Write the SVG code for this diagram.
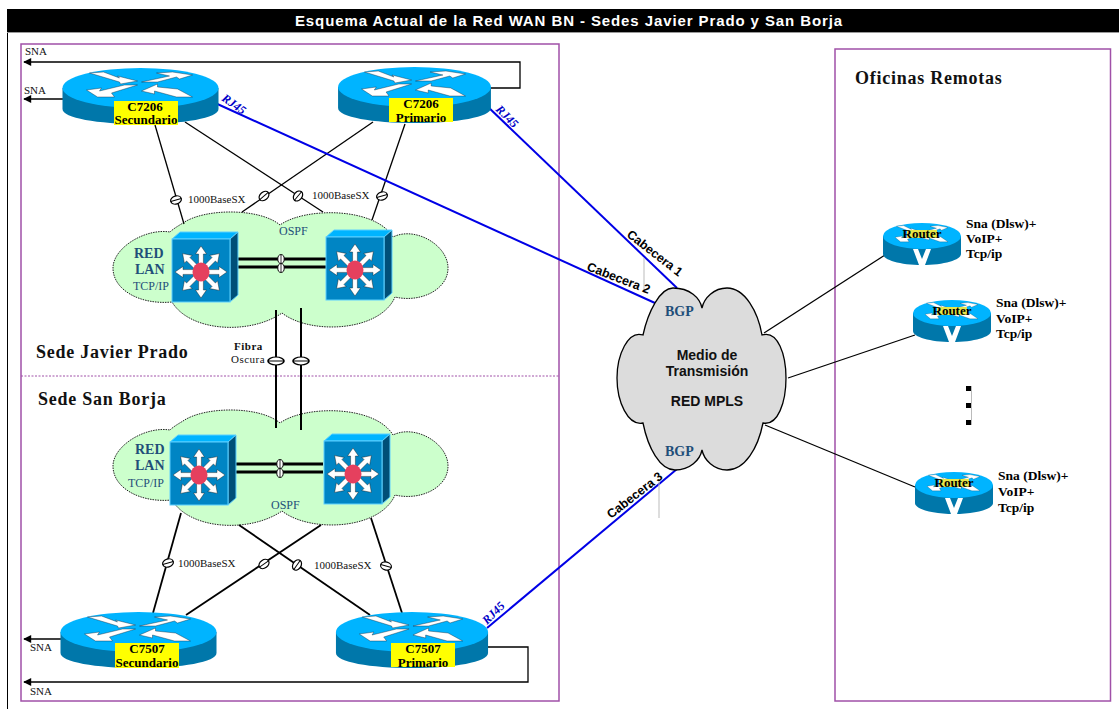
<svg xmlns="http://www.w3.org/2000/svg" xmlns:xlink="http://www.w3.org/1999/xlink" width="1119" height="709" viewBox="0 0 1119 709">
<style>
.s{font-family:"Liberation Serif",serif}
.a{font-family:"Liberation Sans",Arial,sans-serif}
.lbl{font-size:11px;fill:#111}
.net{font-size:14px;fill:#1f4e79;font-weight:bold}
.netn{font-size:12px;fill:#1f4e79}
.rt{font-size:13px;font-weight:bold;fill:#000;text-anchor:middle}
.rj{font-size:12px;font-weight:bold;font-style:italic;fill:#0000c8}
.cab{font-size:12.5px;font-weight:bold;fill:#000}
.mpls{font-size:14px;font-weight:bold;fill:#111;text-anchor:middle}
.site{font-size:18px;font-weight:bold;fill:#111;letter-spacing:.75px}
.rem{font-size:13.5px;font-weight:bold;fill:#000}
.bl{stroke:#000;stroke-width:1.3;fill:none}
.bl2{stroke:#000;stroke-width:1.8;fill:none}
.blue{stroke:#0000e6;stroke-width:2;fill:none}
.fib{stroke:#000;stroke-width:2;fill:none}
.lens{fill:#fff;stroke:#000;stroke-width:1.2}
</style>
<defs>
<marker id="ah" viewBox="0 0 10 10" refX="9" refY="5" markerWidth="9" markerHeight="8" orient="auto" markerUnits="userSpaceOnUse"><path d="M0 0L10 5L0 10Z" fill="#000"/></marker>
<g id="arrows" fill="#fff" stroke="#123" stroke-width=".4">
<path d="M-51 -15L-37 -16L-21 -10L-23 -12L-3 -7L-20 -4L-21 -6Z"/>
<path d="M16 -15L32 -16L52 -13L39 -9L36 -11L17 -6L1 -6L29 -12Z"/>
<path d="M-54 2L-39 0L-41 3L-16 -3L-3 -3L-29 5L-26 9L-43 9Z"/>
<path d="M1 3L17 -4L17 -1L37 1L52 9L36 9L14 3L14 6Z"/>
</g>
<g id="router">
<path d="M-78 0V21C-78 30 -43 36 0 36C43 36 78 30 78 21V0Z" fill="#0077aa"/>
<ellipse rx="78" ry="20" fill="#00b4ff"/>
<use xlink:href="#arrows" href="#arrows"/>
</g>
<g id="srouter">
<path d="M-39 0V18C-39 24 -22 29 0 29C22 29 39 24 39 18V0Z" fill="#0077aa"/>
<ellipse rx="39" ry="13" fill="#00b4ff"/>
<use xlink:href="#arrows" href="#arrows" transform="scale(.5,.65)"/>
<path d="M-9 13L-3 29H3L9 13L4 13L0 23L-4 13Z" fill="#fff"/>
</g>
<path id="arr" d="M7 -2.400H18V-5.500L26 0L18 5.500V2.400H7Z" fill="#fff" stroke="#111" stroke-width=".4"/>
<g id="switch">
<path d="M0 0L8 -7H66L58 0Z" fill="#00b4ff" stroke="#5cd0ff"/>
<path d="M58 0L66 -7V56L58 63Z" fill="#004f78" stroke="#5cd0ff"/>
<rect width="58" height="63" fill="#0085c4" stroke="#5cd0ff"/>
<g transform="translate(29,33)">
<use xlink:href="#arr" href="#arr"/><use xlink:href="#arr" href="#arr" transform="rotate(45)"/><use xlink:href="#arr" href="#arr" transform="rotate(90)"/><use xlink:href="#arr" href="#arr" transform="rotate(135)"/><use xlink:href="#arr" href="#arr" transform="rotate(180)"/><use xlink:href="#arr" href="#arr" transform="rotate(225)"/><use xlink:href="#arr" href="#arr" transform="rotate(270)"/><use xlink:href="#arr" href="#arr" transform="rotate(315)"/>
<ellipse rx="8.500" ry="9.500" fill="#e5405e"/>
</g>
</g>
<path id="cloudG" d="M183 223C205 208 260 208 280 225C305 207 375 207 393 237C415 226 448 245 448 268C448 290 420 303 395 297C380 332 310 335 282 313C250 335 190 332 172 302C140 305 113 290 113 268C113 248 145 228 170 232C173 229 178 226 183 223Z" fill="#ccffcc" stroke="#222" stroke-width="1" stroke-dasharray="1.500 1"/>
<g id="lensT"><ellipse cx="0" cy="0" rx="5.500" ry="4" class="lens"/><path d="M-5.500 0H5.500" stroke="#000" stroke-width="1"/></g>
</defs>

<rect width="1119" height="709" fill="#fff"/>
<rect id="title-bar" x="7" y="9" width="1112" height="23" fill="#000"/>
<path d="M7 32.500H1119" stroke="#999" stroke-width="1"/>
<text x="569" y="25.500" class="a" font-size="15" font-weight="bold" fill="#fff" text-anchor="middle" letter-spacing=".9">Esquema Actual de la Red WAN BN - Sedes Javier Prado y San Borja</text>
<path d="M7.500 33V709" stroke="#000" stroke-width="1" fill="none"/>

<g id="frames" fill="none" stroke="#a050a8" stroke-width="1.500">
<rect x="21" y="44" width="538" height="657"/>
<rect x="835" y="49" width="275.500" height="652"/>
<path d="M21 376H559" stroke-width="1" stroke-dasharray="2 1.500"/>
</g>

<g id="cloud-jp"><use xlink:href="#cloudG" href="#cloudG"/></g>
<g id="cloud-sb"><use xlink:href="#cloudG" href="#cloudG" transform="translate(0,198)"/></g>

<g id="connectors">
<path class="bl" d="M491 88H520V62H24" marker-end="url(#ah)"/>
<path class="bl" d="M63 99H24" marker-end="url(#ah)"/>
<path class="bl" d="M155 125L184 224"/>
<path class="bl" d="M185 122L323 212"/>
<path class="bl" d="M373 122L242 212"/>
<path class="bl" d="M405 124L372 220"/>
<path class="blue" d="M213 102L655 303"/>
<path class="blue" d="M486 105L677 288"/>
<path class="blue" d="M487 628L677 469"/>
<path class="fib" d="M276 310V428M301 308V430"/>
<path d="M238 259H326M238 267H326M236 464H323M236 472H323" stroke="#000" stroke-width="3" fill="none"/>
<path class="bl2" d="M181 513L153 613"/>
<path class="bl2" d="M321 525L186 615"/>
<path class="bl2" d="M239 525L370 615"/>
<path class="bl2" d="M371 518L402 613"/>
<path class="bl" d="M62 639H24" marker-end="url(#ah)"/>
<path class="bl" d="M488 647H528V682H24" marker-end="url(#ah)"/>
<path class="bl" d="M764 333L885 255"/>
<path class="bl" d="M788 378L915 335"/>
<path class="bl" d="M765 425L915 487"/>
<path d="M644 258V290M659 480V518M971.500 386V425" stroke="#bbb" stroke-width="1" fill="none"/>
<use xlink:href="#lensT" href="#lensT" transform="translate(176,200) rotate(-15)"/>
<use xlink:href="#lensT" href="#lensT" transform="translate(264,196) rotate(-40)"/>
<use xlink:href="#lensT" href="#lensT" transform="translate(298,196) rotate(-50)"/>
<use xlink:href="#lensT" href="#lensT" transform="translate(382,196) rotate(-15)"/>
<use xlink:href="#lensT" href="#lensT" transform="translate(168,563) rotate(-15)"/>
<use xlink:href="#lensT" href="#lensT" transform="translate(264,564) rotate(-35)"/>
<use xlink:href="#lensT" href="#lensT" transform="translate(297,565) rotate(-55)"/>
<use xlink:href="#lensT" href="#lensT" transform="translate(386,566) rotate(15)"/>
<use xlink:href="#lensT" href="#lensT" transform="translate(276,361) scale(1.450,1)"/>
<use xlink:href="#lensT" href="#lensT" transform="translate(301,361) scale(1.450,1)"/>
<use xlink:href="#lensT" href="#lensT" transform="translate(281,259) rotate(90) scale(.8)"/>
<use xlink:href="#lensT" href="#lensT" transform="translate(281,268) rotate(90) scale(.8)"/>
<use xlink:href="#lensT" href="#lensT" transform="translate(280,464) rotate(90) scale(.8)"/>
<use xlink:href="#lensT" href="#lensT" transform="translate(280,473) rotate(90) scale(.8)"/>
</g>

<g id="sw1"><use xlink:href="#switch" href="#switch" transform="translate(172,239)"/></g>
<g id="sw2"><use xlink:href="#switch" href="#switch" transform="translate(326,237)"/></g>
<g id="sw3"><use xlink:href="#switch" href="#switch" transform="translate(170,442)"/></g>
<g id="sw4"><use xlink:href="#switch" href="#switch" transform="translate(324,441)"/></g>

<g id="r7206s"><use xlink:href="#router" href="#router" transform="translate(140.500,88)"/><rect x="114" y="101" width="64" height="24" fill="#ff0"/><text x="145" y="111" class="s rt">C7206</text><text x="146" y="124" class="s rt">Secundario</text></g>
<g id="r7206p"><use xlink:href="#router" href="#router" transform="translate(414.500,87) scale(.98,1)"/><rect x="389" y="98" width="64" height="24" fill="#ff0"/><text x="421" y="108" class="s rt">C7206</text><text x="421" y="122" class="s rt">Primario</text></g>
<g id="r7507s"><use xlink:href="#router" href="#router" transform="translate(138.500,632)"/><rect x="115" y="643" width="64" height="25" fill="#ff0"/><text x="147" y="653" class="s rt">C7507</text><text x="147" y="667" class="s rt">Secundario</text></g>
<g id="r7507p"><use xlink:href="#router" href="#router" transform="translate(412,632) scale(.975,1)"/><rect x="391" y="643" width="64" height="24" fill="#ff0"/><text x="423" y="653" class="s rt">C7507</text><text x="423" y="667" class="s rt">Primario</text></g>

<g id="mpls-cloud">
<path d="M673 288C690 288 700 298 702 308C704 298 714 288 727 288C745 288 758 312 762 335C778 330 786 355 786 378C786 402 778 426 763 423C758 448 745 470 727 470C714 470 704 460 702 450C700 460 690 470 675 470C660 470 648 448 643 423C628 426 617 402 617 378C617 355 628 330 643 335C648 312 660 288 673 288Z" fill="#dcdcdc" stroke="#000" stroke-width="1.300"/>
<text x="707" y="360" class="a mpls">Medio de</text>
<text x="707" y="376" class="a mpls">Transmisión</text>
<text x="707" y="406" class="a mpls">RED MPLS</text>
<text x="665" y="316" class="s net">BGP</text>
<text x="665" y="456" class="s net">BGP</text>
</g>

<g id="remote1"><use xlink:href="#srouter" href="#srouter" transform="translate(922,236)"/><rect x="907" y="230" width="30" height="8" fill="#e6e64a"/><text x="922" y="238" class="s rt">Router</text>
<text x="966" y="228" class="s rem">Sna (Dlsw)+</text><text x="966" y="243" class="s rem">VoIP+</text><text x="966" y="258" class="s rem">Tcp/ip</text></g>
<g id="remote2"><use xlink:href="#srouter" href="#srouter" transform="translate(952,313)"/><rect x="937" y="307" width="30" height="8" fill="#e6e64a"/><text x="952" y="315" class="s rt">Router</text>
<text x="996" y="307" class="s rem">Sna (Dlsw)+</text><text x="996" y="323" class="s rem">VoIP+</text><text x="996" y="338" class="s rem">Tcp/ip</text></g>
<g id="remote3"><use xlink:href="#srouter" href="#srouter" transform="translate(954,485)"/><rect x="939" y="479" width="30" height="8" fill="#e6e64a"/><text x="954" y="487" class="s rt">Router</text>
<text x="998" y="480" class="s rem">Sna (Dlsw)+</text><text x="998" y="496" class="s rem">VoIP+</text><text x="998" y="512" class="s rem">Tcp/ip</text></g>
<g id="dots" fill="#000"><rect x="966" y="386" width="5" height="5"/><rect x="966" y="403" width="5" height="5"/><rect x="966" y="420" width="5" height="5"/></g>

<g id="labels">
<text x="25" y="55" class="s lbl">SNA</text><text x="24" y="94" class="s lbl">SNA</text>
<text x="30" y="651" class="s lbl">SNA</text><text x="30" y="695" class="s lbl">SNA</text>
<text x="188" y="203" class="s lbl">1000BaseSX</text><text x="312" y="199" class="s lbl">1000BaseSX</text>
<text x="178" y="567" class="s lbl">1000BaseSX</text><text x="314" y="569" class="s lbl">1000BaseSX</text>
<text x="279" y="235" class="s netn">OSPF</text>
<text x="271" y="509" class="s netn">OSPF</text>
<text x="134" y="258" class="s net">RED</text><text x="135" y="274" class="s net">LAN</text><text x="133" y="290" class="s netn">TCP/IP</text>
<text x="135" y="454" class="s net">RED</text><text x="135" y="470" class="s net">LAN</text><text x="128" y="487" class="s netn">TCP/IP</text>
<text x="234" y="350" class="s lbl" letter-spacing=".5" font-weight="bold">Fibra</text><text x="231" y="363" class="s lbl" letter-spacing=".5">Oscura</text>
<text x="36" y="358" class="s site">Sede Javier Prado</text>
<text x="38" y="405" class="s site">Sede San Borja</text>
<text x="855" y="84" class="s site">Oficinas Remotas</text>
<text transform="translate(221,100) rotate(35)" class="s rj">RJ45</text>
<text transform="translate(495,110) rotate(45)" class="s rj">RJ45</text>
<text transform="translate(487,625) rotate(-45)" class="s rj">RJ45</text>
<text transform="translate(626,236) rotate(38)" class="a cab">Cabecera 1</text>
<text transform="translate(586,270) rotate(21)" class="a cab">Cabecera 2</text>
<text transform="translate(611,519) rotate(-38)" class="a cab">Cabecera 3</text>
</g>
</svg>
